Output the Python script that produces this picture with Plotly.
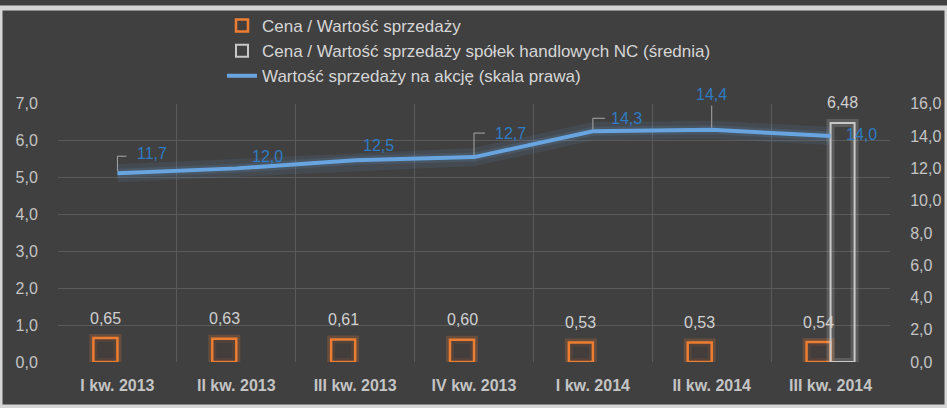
import plotly.graph_objects as go

categories = ["I kw. 2013", "II kw. 2013", "III kw. 2013", "IV kw. 2013",
              "I kw. 2014", "II kw. 2014", "III kw. 2014"]
price_to_sales = [0.65, 0.63, 0.61, 0.60, 0.53, 0.53, 0.54]
peer_avg = [None, None, None, None, None, None, 6.48]
sales_per_share = [11.7, 12.0, 12.5, 12.7, 14.3, 14.4, 14.0]

left_ticks = [0, 1, 2, 3, 4, 5, 6, 7]
right_ticks = [0, 2, 4, 6, 8, 10, 12, 14, 16]


def fmt(v, nd):
    return f"{v:.{nd}f}".replace(".", ",")


BG = "#404040"
GRID = "#5a5a5a"
TXT = "#c4c4c4"
ORANGE = "#ed7d31"
BLUE_LINE = "#68a5e0"
BLUE_TXT = "#2f7cc4"
FONT = "Liberation Sans, Arial, sans-serif"

fig = go.Figure()

# orange bars glow + bars
fig.add_trace(go.Bar(x=categories, y=price_to_sales, offsetgroup="a", yaxis="y",
                     marker=dict(color="rgba(0,0,0,0)",
                                 line=dict(color="rgba(237,125,49,0.22)", width=8)),
                     showlegend=False, hoverinfo="skip"))
fig.add_trace(go.Bar(x=categories, y=price_to_sales, offsetgroup="a", yaxis="y",
                     name="Cena / Wartość sprzedaży",
                     marker=dict(color="rgba(70,62,58,0.6)",
                                 line=dict(color=ORANGE, width=2.5))))
# grey bar glow + bar
fig.add_trace(go.Bar(x=categories, y=peer_avg, offsetgroup="b", yaxis="y",
                     marker=dict(color="rgba(0,0,0,0)",
                                 line=dict(color="rgba(255,255,255,0.15)", width=8)),
                     showlegend=False, hoverinfo="skip"))
fig.add_trace(go.Bar(x=categories, y=peer_avg, offsetgroup="b", yaxis="y",
                     name="Cena / Wartość sprzedaży spółek handlowych NC (średnia)",
                     marker=dict(color="rgba(0,0,0,0)",
                                 line=dict(color="#c8c8c8", width=2))))
# line glow + line
fig.add_trace(go.Scatter(x=categories, y=sales_per_share, yaxis="y2", mode="lines",
                         line=dict(color="rgba(104,165,224,0.10)", width=18),
                         showlegend=False, hoverinfo="skip"))
fig.add_trace(go.Scatter(x=categories, y=sales_per_share, yaxis="y2", mode="lines",
                         line=dict(color="rgba(104,165,224,0.14)", width=9),
                         showlegend=False, hoverinfo="skip"))
fig.add_trace(go.Scatter(x=categories, y=sales_per_share, yaxis="y2", mode="lines",
                         name="Wartość sprzedaży na akcję (skala prawa)",
                         line=dict(color=BLUE_LINE, width=4)))

annotations = []
shapes = []

# bar labels
for c, v in zip(categories, price_to_sales):
    annotations.append(dict(x=c, y=v, yref="y", text=fmt(v, 2), showarrow=False,
                            xshift=-12, yshift=20,
                            font=dict(family=FONT, size=16, color="#d0d0d0")))
for c, v in zip(categories, peer_avg):
    if v is not None:
        annotations.append(dict(x=c, y=v, yref="y", text=fmt(v, 2), showarrow=False,
                                xshift=12, yshift=21,
                                font=dict(family=FONT, size=16, color="#d0d0d0")))

# line labels: (xshift, yshift, leader type, leader up, leader right)
label_pos = [(35, 20, "L", 17, 9), (31, 12, None, 0, 0), (23, 15, None, 0, 0),
             (36, 24, "L", 24, 11), (34, 13, "L", 13, 12), (0, 35, "V", 24, 0),
             (31, 2, None, 0, 0)]
for c, v, (xs, ys, kind, up, right) in zip(categories, sales_per_share, label_pos):
    annotations.append(dict(x=c, y=v, yref="y2", text=fmt(v, 1), showarrow=False,
                            xshift=xs, yshift=ys,
                            font=dict(family=FONT, size=16, color=BLUE_TXT)))
    if kind == "L":
        shapes.append(dict(type="path", xref="x", yref="y2", xsizemode="pixel",
                           ysizemode="pixel", xanchor=c, yanchor=v,
                           path=f"M0,2 L0,{up} L{right},{up}",
                           line=dict(color="#a6a6a6", width=1)))
    elif kind == "V":
        shapes.append(dict(type="path", xref="x", yref="y2", xsizemode="pixel",
                           ysizemode="pixel", xanchor=c, yanchor=v,
                           path=f"M0,2 L0,{up}",
                           line=dict(color="#a6a6a6", width=1)))

# layout geometry: paper area reaches the top of the figure, y axes use a domain
W, H = 947, 408
ml, mr, mt, mb = 58, 57, 0, 46
plot_top = 98
pw, ph = W - ml - mr, H - mt - mb
ydom = [0, (ph - plot_top) / ph]

# outer light border
shapes.append(dict(type="rect", xref="paper", yref="paper",
                   x0=-ml / pw, x1=1 + mr / pw, y0=-mb / ph, y1=1,
                   line=dict(color="#d6d6d6", width=5), fillcolor="rgba(0,0,0,0)",
                   layer="above"))

fig.update_layout(
    width=W, height=H,
    margin=dict(l=ml, r=mr, t=mt, b=mb, pad=0),
    paper_bgcolor=BG, plot_bgcolor=BG,
    separators=", ",
    barmode="group", bargap=0.596, bargroupgap=0,
    font=dict(family=FONT, color=TXT, size=16),
    xaxis=dict(type="category", tickson="boundaries", showgrid=True, gridcolor=GRID,
               gridwidth=1, ticks="", ticklabelstandoff=12,
               tickfont=dict(family=FONT, size=16, color=TXT, weight="bold"),
               showline=False, zeroline=False),
    yaxis=dict(domain=ydom, range=[0, 7], tickvals=left_ticks, tickformat=".1f",
               showgrid=True, gridcolor=GRID, zeroline=False, ticks="outside",
               ticklen=16, tickcolor="rgba(0,0,0,0)",
               tickfont=dict(family=FONT, size=16, color=TXT)),
    yaxis2=dict(range=[0, 16], tickvals=right_ticks, tickformat=".1f", overlaying="y",
                side="right", showgrid=False, zeroline=False, ticks="outside",
                ticklen=16, tickcolor="rgba(0,0,0,0)",
                tickfont=dict(family=FONT, size=16, color=TXT)),
    legend=dict(x=(222 - ml) / pw, xanchor="left", y=1, yanchor="top",
                bgcolor="rgba(0,0,0,0)", font=dict(family=FONT, size=17, color="#d6d6d6"),
                traceorder="normal", itemwidth=30),
    annotations=annotations,
    shapes=shapes,
)

fig.write_html("out.html")
